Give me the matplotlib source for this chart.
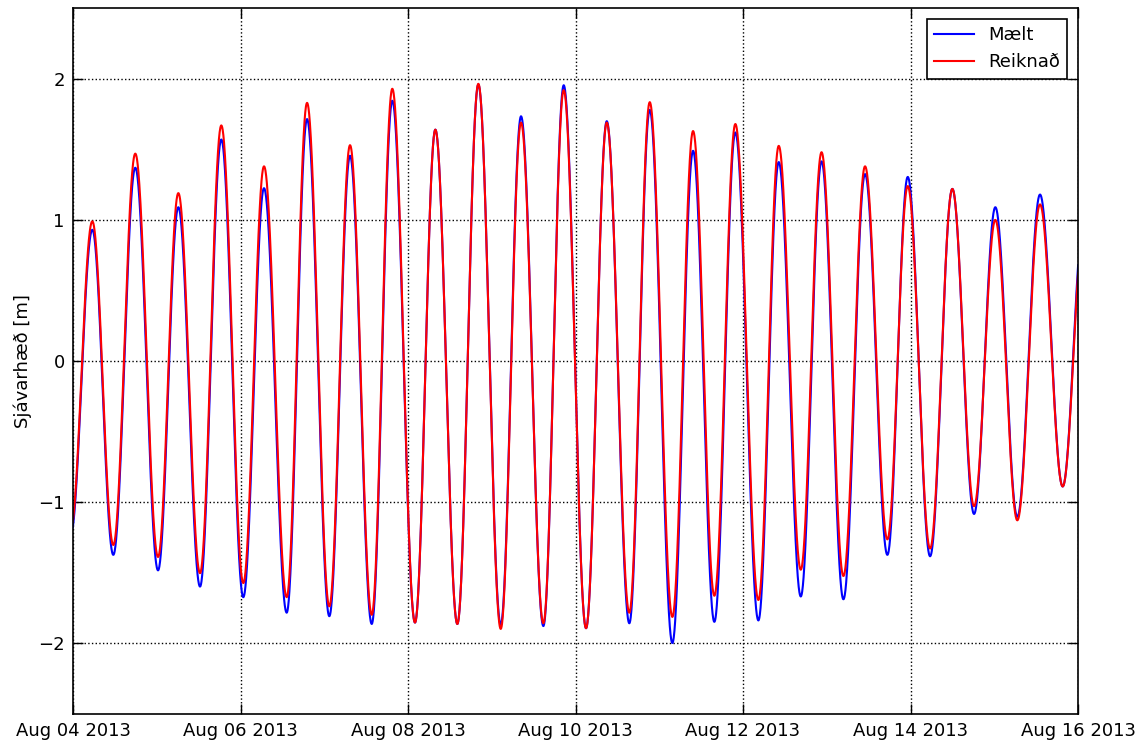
import matplotlib
matplotlib.use('Agg')
import matplotlib.pyplot as plt
import matplotlib.dates as mdates
import numpy as np
import pandas as pd

# High / low water times and heights
high_times = ["2013-08-04 05:32", "2013-08-04 17:51", "2013-08-05 06:11", "2013-08-05 18:30",
              "2013-08-06 06:44", "2013-08-06 19:04", "2013-08-07 07:23", "2013-08-07 19:30",
              "2013-08-08 07:50", "2013-08-08 20:09", "2013-08-09 08:23", "2013-08-09 20:37",
              "2013-08-10 08:57", "2013-08-10 21:16", "2013-08-11 09:41", "2013-08-11 21:48",
              "2013-08-12 10:14", "2013-08-12 22:30", "2013-08-13 10:58", "2013-08-13 23:12",
              "2013-08-14 11:59", "2013-08-15 00:18", "2013-08-15 13:06", "2013-08-16 01:43"]
low_times = ["2013-08-03 23:17", "2013-08-04 11:33", "2013-08-05 00:22", "2013-08-05 12:24",
             "2013-08-06 00:48", "2013-08-06 13:14", "2013-08-07 01:27", "2013-08-07 13:36",
             "2013-08-08 02:00", "2013-08-08 14:08", "2013-08-09 02:34", "2013-08-09 14:47",
             "2013-08-10 03:01", "2013-08-10 15:25", "2013-08-11 03:45", "2013-08-11 15:47",
             "2013-08-12 04:24", "2013-08-12 16:33", "2013-08-13 04:46", "2013-08-13 17:22",
             "2013-08-14 05:36", "2013-08-14 18:12", "2013-08-15 06:36", "2013-08-15 19:36"]

# Mælt (measured)
high_maelt = [0.93, 1.37, 1.09, 1.57, 1.225, 1.715, 1.455, 1.845, 1.64, 1.96, 1.735, 1.955,
              1.70, 1.78, 1.49, 1.62, 1.41, 1.415, 1.325, 1.305, 1.22, 1.09, 1.18, 1.02]
low_maelt = [-1.24, -1.375, -1.485, -1.60, -1.675, -1.785, -1.81, -1.865, -1.855, -1.865, -1.87, -1.88,
             -1.895, -1.86, -2.0, -1.85, -1.84, -1.67, -1.69, -1.375, -1.385, -1.085, -1.105, -0.89]

# Reiknað (computed)
high_reikn = [0.99, 1.47, 1.19, 1.67, 1.38, 1.83, 1.53, 1.93, 1.64, 1.965, 1.69, 1.92,
              1.69, 1.835, 1.63, 1.68, 1.525, 1.48, 1.38, 1.24, 1.22, 1.0, 1.11, 0.95]
low_reikn = [-1.2, -1.305, -1.39, -1.505, -1.575, -1.675, -1.74, -1.80, -1.855, -1.865, -1.90, -1.86,
             -1.895, -1.785, -1.815, -1.665, -1.695, -1.48, -1.525, -1.265, -1.33, -1.03, -1.13, -0.89]


def tide_curve(highs_t, highs_h, lows_t, lows_h, step_min=4):
    t = mdates.date2num(pd.to_datetime(highs_t + lows_t))
    h = np.array(highs_h + lows_h)
    order = np.argsort(t)
    t, h = t[order], h[order]
    grid = np.arange(t[0], t[-1], step_min / 1440.0)
    idx = np.clip(np.searchsorted(t, grid, side='right') - 1, 0, len(t) - 2)
    frac = (grid - t[idx]) / (t[idx + 1] - t[idx])
    vals = h[idx] + (h[idx + 1] - h[idx]) * (1 - np.cos(np.pi * frac)) / 2
    return grid, vals


plt.rcParams['font.family'] = 'DejaVu Sans'
fig = plt.figure(figsize=(11.46, 7.43), dpi=100)
ax = fig.add_axes([0.0637, 0.0397, 0.877, 0.949])

tm, vm = tide_curve(high_times, high_maelt, low_times, low_maelt)
tr, vr = tide_curve(high_times, high_reikn, low_times, low_reikn)
ax.plot(tm, vm, color='b', linewidth=1.5, label='Mælt')
ax.plot(tr, vr, color='r', linewidth=1.5, label='Reiknað')

ax.set_xlim(mdates.date2num(pd.Timestamp("2013-08-04")), mdates.date2num(pd.Timestamp("2013-08-16")))
ax.set_ylim(-2.5, 2.5)
ax.set_yticks([-2, -1, 0, 1, 2])
ax.xaxis.set_major_locator(mdates.DayLocator(interval=2))
ax.xaxis.set_major_formatter(mdates.DateFormatter('%b %d %Y'))
ax.set_ylabel('Sjávarhæð [m]', fontsize=13)
ax.tick_params(direction='in', length=7, width=1, top=True, right=True, labelsize=13, pad=6)
ax.grid(True, color='k', linestyle=':', linewidth=1)
for s in ax.spines.values():
    s.set_linewidth(1.2)

leg = ax.legend(loc='upper right', fontsize=13, fancybox=False, framealpha=1,
                edgecolor='k', handlelength=2.2, borderaxespad=0.6)
leg.get_frame().set_linewidth(1.2)

fig.savefig('out.png', dpi=100)
